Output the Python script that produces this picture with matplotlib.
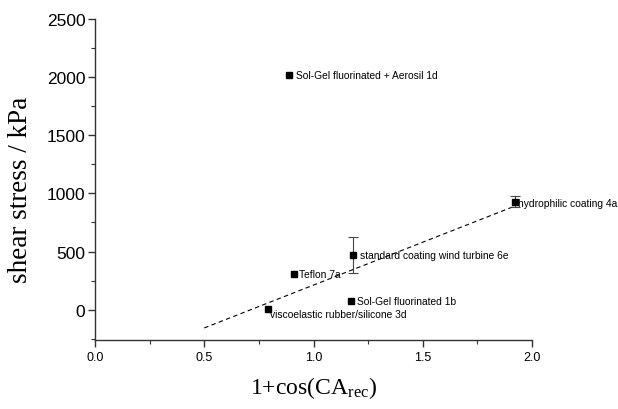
import matplotlib
matplotlib.use("Agg")
import matplotlib.pyplot as plt
from matplotlib.ticker import MultipleLocator

plt.rcParams["mathtext.fontset"] = "custom"
plt.rcParams["mathtext.rm"] = "Liberation Serif"
plt.rcParams["mathtext.it"] = "Liberation Serif:italic"

# data
labels = ["Sol-Gel fluorinated + Aerosil 1d", "hydrophilic coating 4a",
          "standard coating wind turbine 6e", "Teflon 7a",
          "Sol-Gel fluorinated 1b", "viscoelastic rubber/silicone 3d"]
x_vals = [0.89, 1.92, 1.18, 0.91, 1.17, 0.79]
y_vals = [2015, 930, 470, 307, 77, 8]
y_err = [0, 45, 155, 0, 0, 0]
# label offsets in points (dx, dy)
offsets = [(5, 0), (2.5, -1), (5, 0), (4, 0), (4.5, 0), (2, -4)]

fit_x = [0.5, 1.92]
fit_y = [-157, 890]

fig = plt.figure(figsize=(6.18, 4.10), dpi=100)
ax = fig.add_axes([95 / 618, 1 - 340.7 / 410, (532 - 95) / 618, (340.7 - 20) / 410])

ax.plot(fit_x, fit_y, ls=(0, (4, 3)), color="black", lw=0.8)

# error bars only where there is one
ex = [x for x, e in zip(x_vals, y_err) if e > 0]
ey = [y for y, e in zip(y_vals, y_err) if e > 0]
ee = [e for e in y_err if e > 0]
ax.errorbar(ex, ey, yerr=ee, fmt="none", ecolor="#444444", elinewidth=0.8,
            capsize=3.5, capthick=0.8)
ax.plot(x_vals, y_vals, "s", color="black", ms=5, clip_on=False)

for lab, x, y, (dx, dy) in zip(labels, x_vals, y_vals, offsets):
    ax.annotate(lab, (x, y), xytext=(dx, dy), textcoords="offset points",
                ha="left", va="center", fontsize=7.4, family="Liberation Sans")

ax.set_xlim(0, 2.0)
ax.set_ylim(-258, 2500)
ax.xaxis.set_major_locator(MultipleLocator(0.5))
ax.xaxis.set_minor_locator(MultipleLocator(0.25))
ax.yaxis.set_major_locator(MultipleLocator(500))
ax.yaxis.set_minor_locator(MultipleLocator(250))

for s in ["top", "right"]:
    ax.spines[s].set_visible(False)
for s in ["left", "bottom"]:
    ax.spines[s].set_linewidth(1.0)
    ax.spines[s].set_color("#333333")

ax.tick_params(which="major", direction="out", length=5, width=1.0, color="#333333")
ax.tick_params(which="minor", direction="out", length=3, width=0.8, color="#333333")
ax.tick_params(axis="y", labelsize=12.5, pad=2)
ax.tick_params(axis="x", labelsize=9, pad=3)
for t in ax.get_xticklabels() + ax.get_yticklabels():
    t.set_family("Liberation Sans")

ax.set_ylabel("shear stress / kPa", family="Liberation Serif", fontsize=19.5)
ax.yaxis.set_label_coords(-0.142, 0.47)
ax.set_xlabel(r"1+cos(CA$_{\rm rec}$)", family="Liberation Serif", fontsize=17, labelpad=8)

fig.savefig("out.png", dpi=100)
